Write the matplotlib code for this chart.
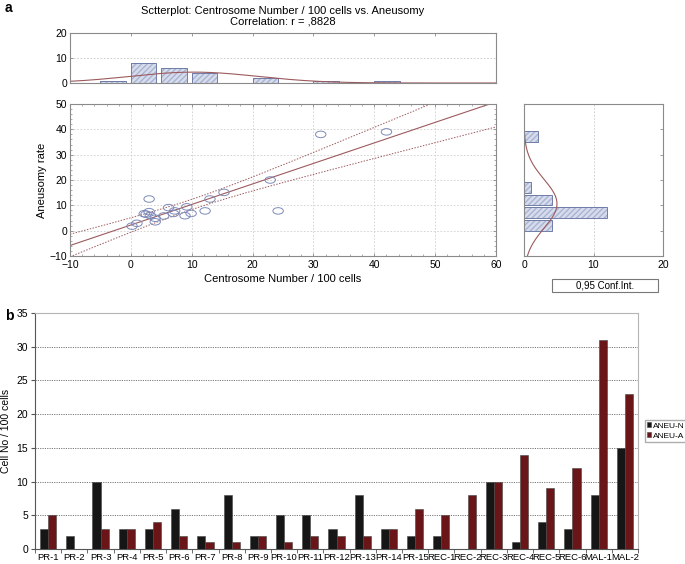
import matplotlib
matplotlib.use("Agg")
import matplotlib.pyplot as plt
import numpy as np
from matplotlib.markers import MarkerStyle
from matplotlib.transforms import Affine2D
from matplotlib.ticker import MultipleLocator
from matplotlib.patches import Rectangle

plt.rcParams['font.family'] = ['Liberation Sans', 'DejaVu Sans']

# --- panel a: centrosome number vs aneusomy rate
centro = [0.2, 1.0, 2.2, 2.5, 3.0, 3.0, 3.2, 4.0, 4.0, 5.4, 6.2, 7.0, 7.2,
          8.9, 9.2, 9.9, 12.2, 13.0, 15.3, 22.9, 24.2, 31.2, 42.0]
aneu = [1.8, 2.9, 6.7, 6.5, 12.5, 7.5, 6.0, 4.9, 3.5, 5.8, 9.1, 6.8, 7.8,
        5.9, 9.4, 6.8, 7.8, 12.5, 15.1, 20.0, 7.8, 38.0, 39.0]

# histogram counts of the marginals
top_bins = [-5, 0, 5, 10, 20, 30, 40]
top_counts = [1, 8, 6, 4, 2, 1, 1]
right_bins = [0, 5, 10, 15, 35]
right_counts = [4, 12, 4, 1, 2]

# --- panel b
cases = ['PR-1', 'PR-2', 'PR-3', 'PR-4', 'PR-5', 'PR-6', 'PR-7', 'PR-8', 'PR-9',
         'PR-10', 'PR-11', 'PR-12', 'PR-13', 'PR-14', 'PR-15', 'REC-1', 'REC-2',
         'REC-3', 'REC-4', 'REC-5', 'REC-6', 'MAL-1', 'MAL-2']
aneu_n = [3, 2, 10, 3, 3, 6, 2, 8, 2, 5, 5, 3, 8, 3, 2, 2, 0, 10, 1, 4, 3, 8, 15]
aneu_a = [5, 0, 3, 3, 4, 2, 1, 1, 2, 1, 2, 2, 2, 3, 6, 5, 8, 10, 14, 9, 12, 31, 23]

W, H = 685, 564
fig = plt.figure(figsize=(W / 100, H / 100), dpi=100)

def box(l, t, r, b):
    return [l / W, 1 - b / H, (r - l) / W, (b - t) / H]

spine_c = '#8a8a8a'
curve_c = '#9c5a5e'
fill_c = '#d6dcec'
hatch_c = '#a9b4d2'
edge_c = '#6f7ca8'
tick_fs = 7.5

def style_ax(ax):
    for s in ax.spines.values():
        s.set_color(spine_c)
        s.set_linewidth(0.8)
    ax.tick_params(labelsize=tick_fs, color=spine_c, length=2.5, width=0.6,
                   direction='in', pad=2)
    ax.tick_params(which='minor', color=spine_c, length=1.5, width=0.5, direction='in')

def hbars(ax, pos, counts, horizontal=False):
    if horizontal:
        ax.barh(pos, counts, height=4.2, align='edge', left=0, color=fill_c,
                edgecolor=hatch_c, hatch='//////', linewidth=0)
        ax.barh(pos, counts, height=4.2, align='edge', left=0, fill=False,
                edgecolor=edge_c, linewidth=0.7)
    else:
        ax.bar(pos, counts, width=4.2, align='edge', color=fill_c,
               edgecolor=hatch_c, hatch='//////', linewidth=0)
        ax.bar(pos, counts, width=4.2, align='edge', fill=False,
               edgecolor=edge_c, linewidth=0.7)

x = np.array(centro)
y = np.array(aneu)
n = len(x)

# top histogram
ax_top = fig.add_axes(box(70, 33, 496, 83))
style_ax(ax_top)
hbars(ax_top, top_bins, top_counts)
xs = np.linspace(-10, 60, 300)
ax_top.plot(xs, n * 5 * np.exp(-0.5 * ((xs - x.mean()) / x.std(ddof=1)) ** 2)
            / (np.sqrt(2 * np.pi) * x.std(ddof=1)), color=curve_c, lw=0.8)
ax_top.set_xlim(-10, 60)
ax_top.set_ylim(0, 20)
ax_top.set_yticks([0, 10, 20])
ax_top.set_xticks([0, 10, 20, 30, 40, 50])
ax_top.tick_params(axis='x', labelbottom=False, top=True, bottom=False)
ax_top.grid(axis='y', ls=(0, (2, 2)), color='#c8c8c8', lw=0.6)
ax_top.set_axisbelow(True)
fig.text(283 / W, 1 - 11 / H, 'Sctterplot: Centrosome Number / 100 cells vs. Aneusomy',
         ha='center', va='center', fontsize=8)
fig.text(283 / W, 1 - 21.5 / H, 'Correlation: r = ,8828', ha='center', va='center', fontsize=8)

# scatter
ax = fig.add_axes(box(70, 104, 496, 256))
style_ax(ax)
ell = MarkerStyle('o', transform=Affine2D().scale(1.6, 1.0))
ax.scatter(x, y, marker=ell, s=22, facecolors='none', edgecolors='#7d8ab8', linewidths=0.7, zorder=3)
b1, b0 = np.polyfit(x, y, 1)
res = y - (b0 + b1 * x)
se = np.sqrt((res ** 2).sum() / (n - 2))
sxx = ((x - x.mean()) ** 2).sum()
xl = np.linspace(-10, 60, 200)
yl = b0 + b1 * xl
half = 2.08 * se * np.sqrt(1 / n + (xl - x.mean()) ** 2 / sxx)
ax.plot(xl, yl, color=curve_c, lw=0.8)
ax.plot(xl, yl + half, color=curve_c, lw=0.7, ls=(0, (1.5, 1.5)))
ax.plot(xl, yl - half, color=curve_c, lw=0.7, ls=(0, (1.5, 1.5)))
ax.set_xlim(-10, 60)
ax.set_ylim(-10, 50)
ax.xaxis.set_major_locator(MultipleLocator(10))
ax.xaxis.set_minor_locator(MultipleLocator(2))
ax.yaxis.set_major_locator(MultipleLocator(10))
ax.yaxis.set_minor_locator(MultipleLocator(2))
ax.tick_params(which='both', top=True, right=True)
ax.tick_params(axis='x', pad=3)
ax.grid(ls=(0, (2, 2)), color='#cfcfcf', lw=0.6)
ax.set_axisbelow(True)
ax.set_xlabel('Centrosome Number / 100 cells', fontsize=8, labelpad=3)
ax.set_ylabel('Aneusomy rate', fontsize=8, labelpad=2)

# right histogram
ax_r = fig.add_axes(box(524, 104, 663, 256))
style_ax(ax_r)
hbars(ax_r, right_bins, right_counts, horizontal=True)
ys = np.linspace(-10, 50, 300)
ax_r.plot(n * 5 * np.exp(-0.5 * ((ys - y.mean()) / y.std(ddof=1)) ** 2)
          / (np.sqrt(2 * np.pi) * y.std(ddof=1)), ys, color=curve_c, lw=0.8)
ax_r.set_xlim(0, 20)
ax_r.set_ylim(-10, 50)
ax_r.set_xticks([0, 10, 20])
ax_r.set_yticks([0, 10, 20, 30, 40])
ax_r.tick_params(axis='y', left=False, right=True, labelleft=False)
ax_r.tick_params(axis='x', pad=3)
ax_r.grid(axis='x', ls=(0, (2, 2)), color='#c8c8c8', lw=0.6)
ax_r.set_axisbelow(True)
fig.patches.append(Rectangle((552 / W, 1 - 292 / H), 106 / W, 13 / H, transform=fig.transFigure,
                             fill=False, edgecolor='#777777', lw=0.8))
fig.text(605 / W, 1 - 285.5 / H, '0,95 Conf.Int.', ha='center', va='center', fontsize=7)

fig.text(5 / W, 1 - 8 / H, 'a', fontsize=10, fontweight='bold', va='center')
fig.text(5 / W, 1 - 316 / H, 'b', fontsize=10, fontweight='bold', va='center')

# panel b bars
axb = fig.add_axes(box(35, 313, 638, 549))
pos = np.arange(len(cases))
bw = 0.31
axb.bar(pos - bw / 2, aneu_n, bw, color='#161616', edgecolor='#444444', lw=0.4, label='ANEU-N', zorder=3)
axb.bar(pos + bw / 2, aneu_a, bw, color='#6a1518', edgecolor='#444444', lw=0.4, label='ANEU-A', zorder=3)
axb.set_xlim(-0.5, len(cases) - 0.5)
axb.set_ylim(0, 35)
axb.set_yticks(range(0, 36, 5))
axb.set_xticks(pos)
axb.set_xticklabels(cases, fontsize=6.8)
axb.set_xticks(np.arange(-0.5, len(cases), 1), minor=True)
axb.tick_params(axis='x', which='major', length=0, pad=3)
axb.tick_params(axis='x', which='minor', length=3, color='#555555', direction='out')
axb.tick_params(axis='y', labelsize=7.5, length=3, color='#555555', direction='out', pad=2)
for yy in range(5, 35, 5):
    axb.axhline(yy, color='#777777', lw=0.7, ls=(0, (1.2, 1.2)), zorder=1)
axb.spines['top'].set_color('#b5b5b5')
axb.spines['right'].set_color('#b5b5b5')
axb.spines['left'].set_color('#555555')
axb.spines['bottom'].set_color('#555555')
axb.set_ylabel('Cell No / 100 cells', fontsize=7.5, labelpad=4)
axb.legend(loc='center left', bbox_to_anchor=((645 - 35) / 603, 0.5), fontsize=6,
           frameon=True, fancybox=False, edgecolor='#999999', handlelength=0.5,
           handleheight=0.5, handletextpad=0.25, borderpad=0.25, labelspacing=0.3,
           borderaxespad=0)

fig.savefig('out.png', dpi=100)
